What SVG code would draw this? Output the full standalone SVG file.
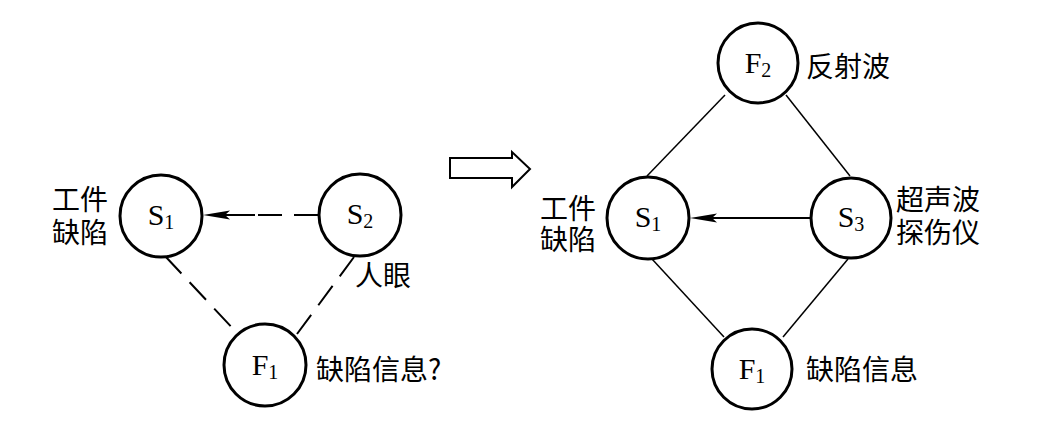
<svg xmlns="http://www.w3.org/2000/svg" width="1049" height="427" viewBox="0 0 1049 427">
<style>
.node{fill:#fff;stroke:#000;stroke-width:3}
.lab{font-family:"Liberation Serif","DejaVu Serif",serif;font-size:30px;fill:#000;text-anchor:middle}
.sub{font-size:20px}
.cjk{font-family:"Noto Sans CJK SC","Noto Sans CJK JP",sans-serif;font-size:28px;fill:#000}
.dash{stroke:#000;stroke-width:2;fill:none;stroke-dasharray:24 12}
.solid{stroke:#000;stroke-width:1.5;fill:none}
.head{fill:#000;stroke:none}
</style>
<g id="connectors">
<line class="dash" x1="318" y1="215" x2="226" y2="215"/>
<line x1="255" y1="215" x2="210" y2="215" stroke="#000" stroke-width="2"/>
<polygon class="head" points="203,215 230,210.5 225,215 230,219.5"/>
<line class="dash" x1="165" y1="256" x2="238" y2="334"/>
<line class="dash" x1="354" y1="257" x2="297" y2="334"/>
<polygon points="450,158 512,158 512,152 530,169 512,187 512,178 450,178" fill="#fff" stroke="#000" stroke-width="2"/>
<line class="solid" x1="725" y1="95" x2="647" y2="176"/>
<line class="solid" x1="786" y1="95" x2="850" y2="176"/>
<line class="solid" x1="652" y1="259" x2="724" y2="337"/>
<line class="solid" x1="848" y1="259" x2="783" y2="337"/>
<line x1="811" y1="218" x2="698" y2="218" stroke="#000" stroke-width="2"/>
<polygon class="head" points="690,218 717,213.5 712,218 717,222.5"/>
</g>
<g id="S1-left">
<circle class="node" cx="161" cy="216" r="41"/>
<text class="lab" x="161" y="225">S<tspan class="sub" dy="4">1</tspan></text>
<text class="cjk"><tspan x="52" y="210">工件</tspan><tspan x="52" y="243">缺陷</tspan></text>
</g>
<g id="S2-left">
<circle class="node" cx="360" cy="215" r="41"/>
<text class="lab" x="360" y="224">S<tspan class="sub" dy="4">2</tspan></text>
<text class="cjk" x="355" y="286">人眼</text>
</g>
<g id="F1-left">
<circle class="node" cx="265" cy="365" r="41"/>
<text class="lab" x="265" y="375">F<tspan class="sub" dy="4">1</tspan></text>
<text class="cjk" x="316" y="380">缺陷信息?</text>
</g>
<g id="F2-right">
<circle class="node" cx="758" cy="63" r="40"/>
<text class="lab" x="758" y="73">F<tspan class="sub" dy="4">2</tspan></text>
<text class="cjk" x="806" y="77">反射波</text>
</g>
<g id="S1-right">
<circle class="node" cx="648" cy="218" r="41"/>
<text class="lab" x="648" y="227">S<tspan class="sub" dy="4">1</tspan></text>
<text class="cjk"><tspan x="540" y="219">工件</tspan><tspan x="540" y="250">缺陷</tspan></text>
</g>
<g id="S3-right">
<circle class="node" cx="851" cy="218" r="40"/>
<text class="lab" x="851" y="227">S<tspan class="sub" dy="4">3</tspan></text>
<text class="cjk"><tspan x="896" y="210">超声波</tspan><tspan x="896" y="243">探伤仪</tspan></text>
</g>
<g id="F1-right">
<circle class="node" cx="752" cy="369" r="40"/>
<text class="lab" x="752" y="379">F<tspan class="sub" dy="4">1</tspan></text>
<text class="cjk" x="806" y="380">缺陷信息</text>
</g>
</svg>
